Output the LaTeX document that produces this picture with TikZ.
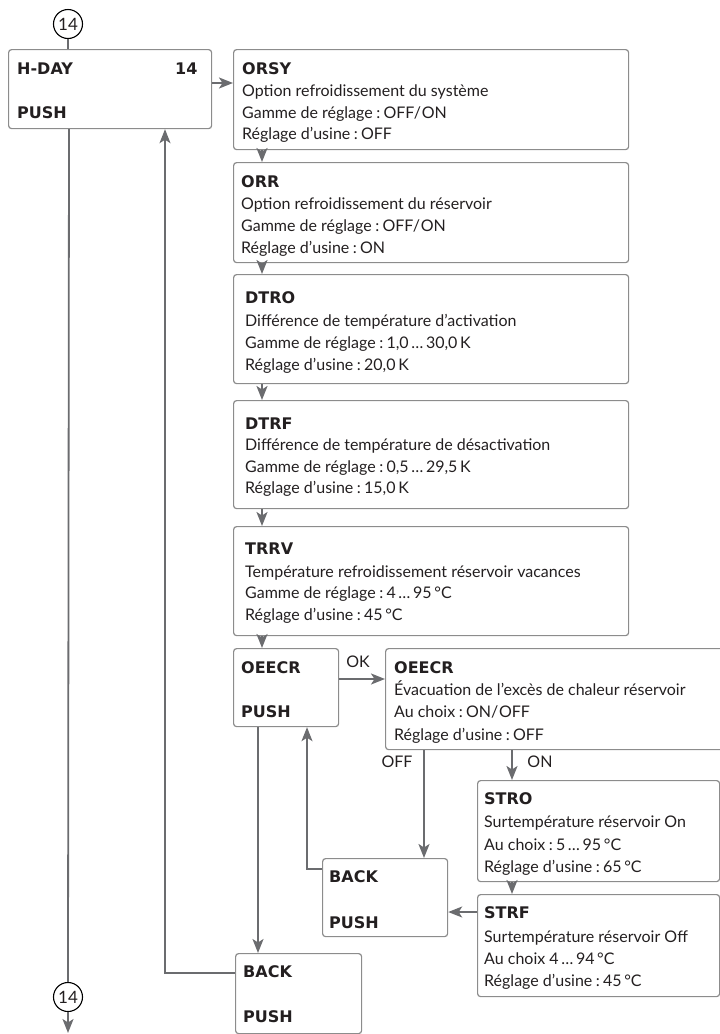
\documentclass[tikz,border=0pt]{standalone}
\usepackage{fontspec}
\setmainfont{Lato}
\newfontfamily\titlefont{DejaVu Sans}
\usetikzlibrary{arrows.meta}
\definecolor{boxgray}{HTML}{8C8C8C}
\definecolor{linegray}{HTML}{6B6C6F}
\definecolor{txt}{HTML}{231F20}
\newcommand\cln{\kern0.22em:\kern0.2em}
\tikzset{
  box/.style={draw=boxgray, line width=1.2pt, rounded corners=3pt, anchor=north west, inner sep=0pt, rectangle},
  tl/.style={anchor=base west, inner sep=0pt, text=txt, font=\fontsize{16}{19}\selectfont},
  tb/.style={tl, font=\fontsize{16}{19}\selectfont\titlefont\bfseries},
  lab/.style={inner sep=0pt, text=txt, font=\fontsize{16}{19}\selectfont},
  conn/.style={draw=linegray, line width=1.8pt},
  arr/.style={conn, -{Stealth[length=14pt, width=11pt, inset=3.5pt]}},
  circ/.style={circle, draw=black, line width=1.1pt, minimum size=29pt, inner sep=0pt, text=txt, font=\fontsize{17}{19}\selectfont}
}
\begin{document}
\begin{tikzpicture}[x=1pt, y=-1pt]
\useasboundingbox (0,0) rectangle (720,1034);

% H-DAY
\node[box, minimum width=203pt, minimum height=79pt] (hday) at (8,49) {};
\node[tb] (hday-t) at (17,74) {H-DAY};
\node[tb] (hday-n) at (175,74) {14};
\node[tb] (hday-p) at (17,118) {PUSH};
\node[circ] (c1) at (68,24) {14};

% ORSY
\node[box, minimum width=395pt, minimum height=100pt] (orsy) at (233,49) {};
\node[tb] (orsy-t) at (242,74) {ORSY};
\node[tl] (orsy-1) at (242,96) {Option refroidissement du système};
\node[tl] (orsy-2) at (242,118) {Gamme de réglage\cln OFF/\kern0.05em ON};
\node[tl] (orsy-3) at (242,139) {Réglage d’usine\cln OFF};

% ORR
\node[box, minimum width=395pt, minimum height=100pt] (orr) at (233,162) {};
\node[tb] (orr-t) at (241,187) {ORR};
\node[tl] (orr-1) at (241,209) {Option refroidissement du réservoir};
\node[tl] (orr-2) at (241,231) {Gamme de réglage\cln OFF/\kern0.05em ON};
\node[tl] (orr-3) at (241,253) {Réglage d’usine\cln ON};

% DTRO
\node[box, minimum width=395pt, minimum height=109pt] (dtro) at (233,274) {};
\node[tb] (dtro-t) at (245,303) {DTRO};
\node[tl] (dtro-1) at (245,326) {Différence de température d’activation};
\node[tl] (dtro-2) at (245,348) {Gamme de réglage\cln 1,0\,…\,30,0\,K};
\node[tl] (dtro-3) at (245,370) {Réglage d’usine\cln 20,0\,K};

% DTRF
\node[box, minimum width=395pt, minimum height=108pt] (dtrf) at (233,400) {};
\node[tb] (dtrf-t) at (245,429) {DTRF};
\node[tl] (dtrf-1) at (245,450) {Différence de température de désactivation};
\node[tl] (dtrf-2) at (245,472) {Gamme de réglage\cln 0,5\,…\,29,5\,K};
\node[tl] (dtrf-3) at (245,493) {Réglage d’usine\cln 15,0\,K};

% TRRV
\node[box, minimum width=395pt, minimum height=109pt] (trrv) at (233,526) {};
\node[tb] (trrv-t) at (245,554) {TRRV};
\node[tl] (trrv-1) at (245,577) {Température refroidissement réservoir vacances};
\node[tl] (trrv-2) at (245,598) {Gamme de réglage\cln 4\,…\,95\,°C};
\node[tl] (trrv-3) at (245,620) {Réglage d’usine\cln 45\,°C};

% OEECR small
\node[box, minimum width=105pt, minimum height=78pt] (oeecr) at (233,648) {};
\node[tb] (oeecr-t) at (241,673) {OEECR};
\node[tb] (oeecr-p) at (241,717) {PUSH};

% OEECR big
\node[box, minimum width=345pt, minimum height=101pt] (oeecrb) at (385,648) {};
\node[tb] (oeecrb-t) at (394,673) {OEECR};
\node[tl] (oeecrb-1) at (394,695) {Évacuation de l’excès de chaleur réservoir};
\node[tl] (oeecrb-2) at (394,717) {Au choix\cln ON/\kern0.05em OFF};
\node[tl] (oeecrb-3) at (394,740) {Réglage d’usine\cln OFF};

% STRO
\node[box, minimum width=242pt, minimum height=101pt] (stro) at (477,780) {};
\node[tb] (stro-t) at (484,804) {STRO};
\node[tl] (stro-1) at (484,827) {Surtempérature réservoir On};
\node[tl] (stro-2) at (484,850) {Au choix\cln 5\,…\,95\,°C};
\node[tl] (stro-3) at (484,872) {Réglage d’usine\cln 65\,°C};

% STRF
\node[box, minimum width=242pt, minimum height=102pt] (strf) at (477,894) {};
\node[tb] (strf-t) at (484,918) {STRF};
\node[tl] (strf-1) at (484,942) {Surtempérature réservoir Off};
\node[tl] (strf-2) at (484,964) {Au choix 4\,…\,94\,°C};
\node[tl] (strf-3) at (484,986) {Réglage d’usine\cln 45\,°C};

% BACK 1
\node[box, minimum width=125pt, minimum height=78pt] (back1) at (322,858) {};
\node[tb] (back1-t) at (329,882) {BACK};
\node[tb] (back1-p) at (329,928) {PUSH};

% BACK 2
\node[box, minimum width=126pt, minimum height=80pt] (back2) at (235,953) {};
\node[tb] (back2-t) at (243,977) {BACK};
\node[tb] (back2-p) at (243,1022) {PUSH};

% bottom circle
\node[circ] (c2) at (68,997) {14};

% labels
\node[lab] (lok) at (358,662) {OK};
\node[lab] (loff) at (397,762) {OFF};
\node[lab] (lon) at (540,762) {ON};

% helper coordinates
\coordinate (ya) at (0,83);
\coordinate (vx) at (262,0);
\coordinate (yok) at (0,679);
\coordinate (xoff) at (424,0);
\coordinate (xon) at (512,0);
\coordinate (ystrf) at (0,912);
\coordinate (xdn) at (258,0);
\coordinate (cup) at (307,869);
\coordinate (cret) at (165,973);
\coordinate (xh) at (69,0);
\coordinate (endb) at (68,1033);

% connectors
\draw[conn] (c1.south) -- (c1.south |- hday.north);
\draw[arr] (hday.east |- ya) -- (orsy.west |- ya);
\draw[arr] (orsy.south -| vx) -- (orr.north -| vx);
\draw[arr] (orr.south -| vx) -- (dtro.north -| vx);
\draw[arr] (dtro.south -| vx) -- (dtrf.north -| vx);
\draw[arr] (dtrf.south -| vx) -- (trrv.north -| vx);
\draw[arr] (trrv.south -| vx) -- (oeecr.north -| vx);
\draw[arr] (oeecr.east |- yok) -- (oeecrb.west |- yok);
\draw[arr] (oeecrb.south -| xoff) -- (back1.north -| xoff);
\draw[arr] (oeecrb.south -| xon) -- (stro.north -| xon);
\draw[arr] (stro.south -| xon) -- (strf.north -| xon);
\draw[arr] (strf.west |- ystrf) -- (back1.east |- ystrf);
\draw[arr] (oeecr.south -| xdn) -- (back2.north -| xdn);
\draw[arr] (back1.west |- cup) -| (oeecr.south -| cup);
\draw[arr] (back2.west |- cret) -| (hday.south -| cret);
\draw[conn] (hday.south -| xh) -- (c2.north);
\draw[arr] (c2.south) -- (endb);
\end{tikzpicture}
\end{document}
